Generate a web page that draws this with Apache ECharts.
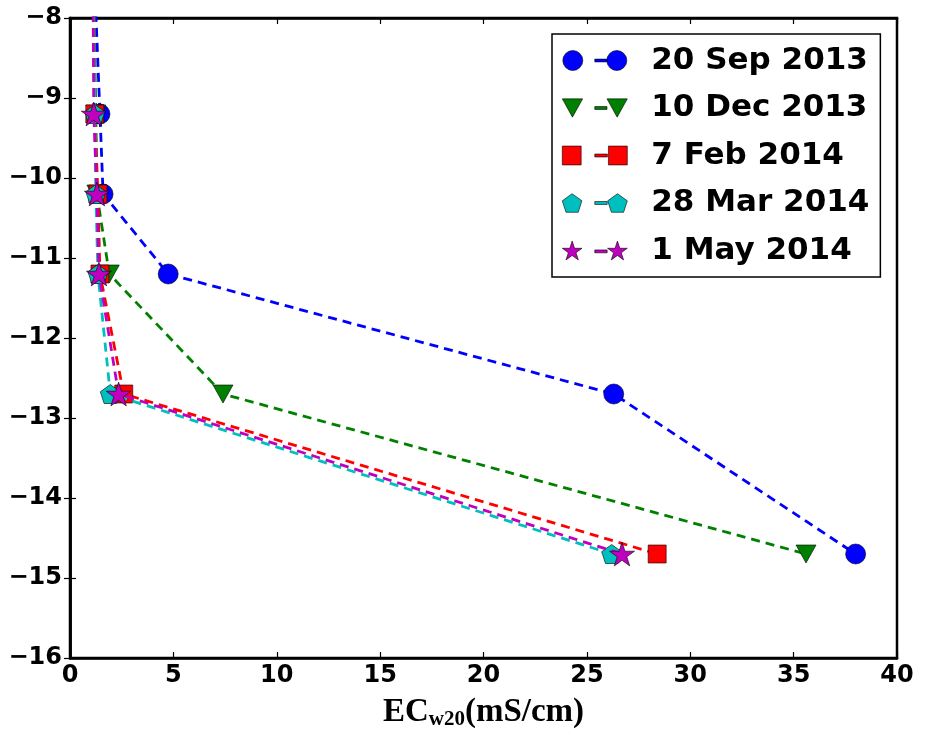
<!DOCTYPE html>
<html>
<head>
<meta charset="utf-8">
<script src="https://cdn.jsdelivr.net/npm/echarts@6/dist/echarts.min.js"></script>
<style>
  html, body { margin: 0; padding: 0; background: #fff; }
  #chart { width: 926px; height: 736px; }
</style>
</head>
<body>
<div id="chart"></div>
<script>
// depth (m) per sample, first value lies above the plot top so the line runs off the edge
const depths = [-7, -9.2, -10.2, -11.2, -12.7, -14.7]

const seriesNames = ['20 Sep 2013', '10 Dec 2013', '7 Feb 2014', '28 Mar 2014', '1 May 2014']
const sep2013 = [1.1, 1.45, 1.6, 4.75, 26.3, 38.0]
const dec2013 = [1.1, 1.25, 1.3, 1.9, 7.4, 35.6]
const feb2014 = [1.1, 1.2, 1.35, 1.45, 2.6, 28.4]
const mar2014 = [1.1, 1.2, 1.25, 1.35, 1.95, 26.2]
const may2014 = [1.1, 1.15, 1.3, 1.4, 2.35, 26.7]

const xTicks = [0, 5, 10, 15, 20, 25, 30, 35, 40]
const yTicks = [-16, -15, -14, -13, -12, -11, -10, -9, -8]

const colors = ['#0000ff', '#008000', '#ff0000', '#00bfbf', '#bf00bf']

// marker shapes
const triDown = 'path://M0 0 L20 0 L10 18 Z'
const pentagon = 'path://M10 0 L19.51 6.91 L15.88 18.09 L4.12 18.09 L0.49 6.91 Z'
const star = 'path://M10 0 L12.245 6.91 L19.51 6.91 L13.633 11.18 L15.88 18.09 L10 13.82 L4.12 18.09 L6.367 11.18 L0.49 6.91 L7.755 6.91 Z'
const symbols = ['circle', triDown, 'rect', pentagon, star]
const symbolSizes = [20, 20, 18, 20, 25]

// legend icons: marker, dash, marker
const dash = 'M32 8.6 L44 8.6 L44 11.4 L32 11.4 Z'
const legendIcons = [
  'path://M0 10 A10 10 0 1 0 20 10 A10 10 0 1 0 0 10 Z ' + dash + ' M44 10 A10 10 0 1 0 64 10 A10 10 0 1 0 44 10 Z',
  'path://M0 1 L20 1 L10 19 Z ' + dash + ' M44 1 L64 1 L54 19 Z',
  'path://M1 1 L19 1 L19 19 L1 19 Z ' + dash + ' M45 1 L63 1 L63 19 L45 19 Z',
  'path://M10 1 L19.5 7.9 L15.9 19 L4.1 19 L0.5 7.9 Z ' + dash + ' M54 1 L63.5 7.9 L59.9 19 L48.1 19 L44.5 7.9 Z',
  'path://M10 0 L12.3 7 L19.6 7 L13.7 11.3 L16 18.3 L10 14 L4 18.3 L6.3 11.3 L0.4 7 L7.7 7 Z ' + dash +
    ' M54 0 L56.3 7 L63.6 7 L57.7 11.3 L60 18.3 L54 14 L48 18.3 L50.3 11.3 L44.4 7 L51.7 7 Z'
]

const allX = [sep2013, dec2013, feb2014, mar2014, may2014]

const chart = echarts.init(document.getElementById('chart'))

const tickFont = { fontFamily: 'DejaVu Sans', fontWeight: 'bold', fontSize: 24, color: '#000' }

chart.setOption({
  animation: false,
  backgroundColor: '#fff',
  grid: {
    left: 70, right: 29, top: 18, bottom: 78,
    show: true, borderColor: '#000', borderWidth: 2.5, backgroundColor: 'transparent'
  },
  legend: {
    orient: 'vertical',
    left: 552, top: 34,
    padding: [11, 11, 11, 10],
    itemWidth: 65, itemHeight: 20, itemGap: 16.5,
    borderColor: '#000', borderWidth: 1.5,
    backgroundColor: '#fff',
    itemStyle: { borderColor: '#000', borderWidth: 0.6 },
    lineStyle: { width: 0 },
    textStyle: {
      fontFamily: 'DejaVu Sans', fontWeight: 'bold', fontSize: 31,
      color: '#000', lineHeight: 30, padding: [0, 0, 0, 19]
    },
    data: seriesNames.map((n, i) => ({ name: n, icon: legendIcons[i] }))
  },
  xAxis: [{
    type: 'value', min: 0, max: 40, interval: 5,
    position: 'bottom',
    axisLine: { show: true, lineStyle: { color: '#000', width: 2.5 } },
    axisTick: { show: true, inside: true, length: 6, lineStyle: { color: '#000', width: 1.2 } },
    axisLabel: Object.assign({ margin: 6, formatter: v => xTicks.includes(v) ? String(v) : '' }, tickFont),
    splitLine: { show: false },
    name: '{a|EC}{b|w20}{a|(mS/cm)}',
    nameLocation: 'middle',
    nameGap: 36,
    nameTextStyle: {
      rich: {
        a: { fontFamily: 'Liberation Serif', fontWeight: 'bold', fontSize: 33, lineHeight: 36, color: '#000' },
        b: { fontFamily: 'Liberation Serif', fontWeight: 'bold', fontSize: 21, lineHeight: 10, verticalAlign: 'bottom', color: '#000' }
      }
    }
  }, {
    type: 'value', min: 0, max: 40, interval: 5,
    position: 'top',
    axisLine: { show: true, lineStyle: { color: '#000', width: 2.5 } },
    axisTick: { show: true, inside: true, length: 6, lineStyle: { color: '#000', width: 1.2 } },
    axisLabel: { show: false },
    splitLine: { show: false }
  }],
  yAxis: [{
    type: 'value', min: -16, max: -8, interval: 1,
    position: 'left',
    axisLine: { show: true, lineStyle: { color: '#000', width: 2.5 } },
    axisTick: { show: true, inside: true, length: 6, lineStyle: { color: '#000', width: 1.2 } },
    axisLabel: Object.assign({ margin: 8, formatter: v => yTicks.includes(v) ? '\u2212' + Math.abs(v) : '' }, tickFont),
    splitLine: { show: false }
  }, {
    type: 'value', min: -16, max: -8, interval: 1,
    position: 'right',
    axisLine: { show: true, lineStyle: { color: '#000', width: 2.5 } },
    axisTick: { show: true, inside: true, length: 6, lineStyle: { color: '#000', width: 1.2 } },
    axisLabel: { show: false },
    splitLine: { show: false }
  }],
  series: seriesNames.map((name, i) => ({
    name: name,
    type: 'line',
    xAxisIndex: 0,
    yAxisIndex: 0,
    clip: true,
    symbol: symbols[i],
    symbolSize: symbolSizes[i],
    symbolKeepAspect: true,
    showAllSymbol: true,
    color: colors[i],
    itemStyle: { color: colors[i], borderColor: '#000', borderWidth: 0.6 },
    lineStyle: { color: colors[i], width: 2.8, type: [9, 6] },
    data: allX[i].map((x, j) => [x, depths[j]]),
    z: 2 + i
  }))
})
</script>
</body>
</html>
